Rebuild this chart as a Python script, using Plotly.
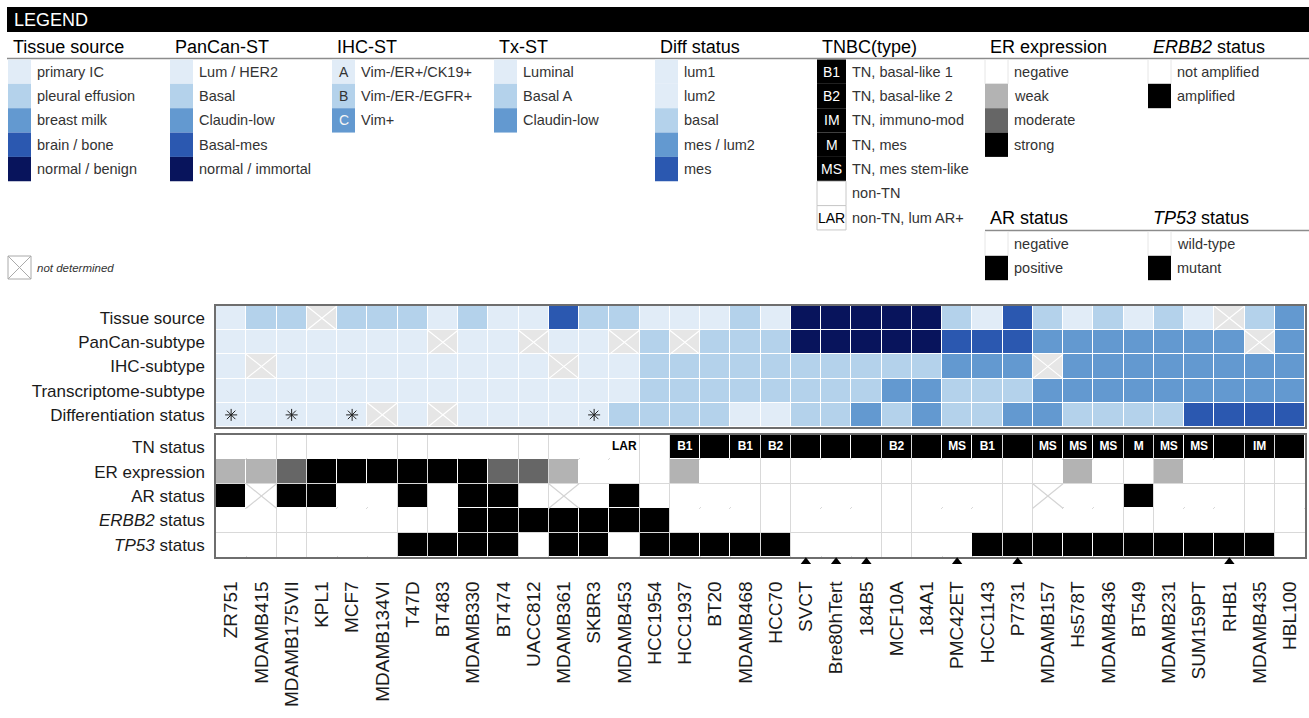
import plotly.graph_objects as go

W, H = 1309, 718
FONT = "Liberation Sans, Arial, Helvetica, sans-serif"

# ---------------- data ----------------
cell_lines = ["ZR751", "MDAMB415", "MDAMB175VII", "KPL1", "MCF7", "MDAMB134VI", "T47D", "BT483",
              "MDAMB330", "BT474", "UACC812", "MDAMB361", "SKBR3", "MDAMB453", "HCC1954", "HCC1937",
              "BT20", "MDAMB468", "HCC70", "SVCT", "Bre80hTert", "184B5", "MCF10A", "184A1",
              "PMC42ET", "HCC1143", "P7731", "MDAMB157", "Hs578T", "MDAMB436", "BT549", "MDAMB231",
              "SUM159PT", "RHB1", "MDAMB435", "HBL100"]

# tissue source: IC primary IC, PE pleural effusion, BM breast milk, BB brain/bone, NB normal/benign
tissue_source = ["IC", "PE", "PE", None, "PE", "PE", "PE", "IC", "PE", "IC", "IC", "BB", "PE", "PE", "IC",
                 "IC", "IC", "PE", "IC", "NB", "NB", "NB", "NB", "NB", "PE", "IC", "BB", "PE", "IC", "PE",
                 "IC", "PE", "IC", None, "PE", "BM"]
# PanCan subtype: LH Lum/HER2, Ba Basal, CL Claudin-low, BM Basal-mes, NI normal/immortal
pancan_subtype = ["LH"] * 7 + [None, "LH", "LH", None, "LH", "LH", None, "Ba",
                               None, "Ba", "Ba", "Ba", "NI", "NI", "NI", "NI", "NI", "BM", "BM", "BM",
                               "CL", "CL", "CL", "CL", "CL", "CL", "CL", None, "CL"]
ihc_subtype = ["A", None, "A", "A", "A", "A", "A", "A", "A", "A", "A", None, "A", "A", "B"] + \
              ["B"] * 9 + ["C", "C", "C", None] + ["C"] * 8
transcriptome_subtype = ["Luminal"] * 14 + ["Basal A"] * 8 + ["Claudin-low"] * 2 + \
                        ["Basal A"] * 3 + ["Claudin-low"] * 9
diff_status = ["lum1", "lum2", "lum1", "lum2", "lum1", None, "lum2", None, "lum2", "lum2", "lum2", "lum2",
               "lum1", "basal", "basal", "basal", "basal", "lum2", "lum2", "basal", "basal", "mes/lum2",
               "basal", "mes/lum2", "basal", "basal", "mes/lum2", "mes/lum2", "basal", "basal", "basal",
               "basal", "mes", "mes", "mes", "mes"]

tn_status = ["non-TN"] * 13 + ["LAR", "non-TN", "B1", "TN", "B1", "B2", "TN", "TN", "TN", "B2", "TN",
                               "MS", "B1", "TN", "MS", "MS", "MS", "M", "MS", "MS", "TN", "IM", "TN"]
er_expression = ["weak", "weak", "moderate"] + ["strong"] * 6 + ["moderate", "moderate", "weak"] + \
                ["negative"] * 3 + ["weak"] + ["negative"] * 12 + ["weak", "negative", "negative", "weak"] + \
                ["negative"] * 4
ar_status = ["pos", None, "pos", "pos", "neg", "neg", "pos", "neg", "pos", "pos", "neg", None, "neg", "pos",
             "neg"] + ["neg"] * 12 + [None, "neg", "neg", "pos"] + ["neg"] * 5
erbb2_status = ["not amplified"] * 8 + ["amplified"] * 7 + ["not amplified"] * 21
tp53_status = ["wt"] * 6 + ["mut"] * 4 + ["wt", "mut", "mut", "wt", "mut"] + ["mut"] * 4 + ["wt"] * 6 + \
              ["mut"] * 10 + ["wt"]

marked_lines = ["SVCT", "Bre80hTert", "184B5", "PMC42ET", "P7731", "RHB1"]

top_row_labels = ["Tissue source", "PanCan-subtype", "IHC-subtype", "Transcriptome-subtype",
                  "Differentiation status"]
bottom_row_labels = ["TN status", "ER expression", "AR status", "<i>ERBB2</i> status", "<i>TP53</i> status"]

# ---------------- styles ----------------
BLUES = ["#e1ecf7", "#b4d2eb", "#6399d0", "#2b58b0", "#08145c"]
NA_TOP = "#e6e6e6"
GRAYS = ["#ffffff", "#b3b3b3", "#666666", "#000000"]
BORDER = "#6e6e6e"

n = len(cell_lines)
X0, X1 = 216, 1305
TOP_Y0, TOP_Y1 = 306, 427
BOT_Y0, BOT_Y1 = 435, 557
MARK_Y0, MARK_Y1 = 557, 575


def discrete_scale(colors):
    k = len(colors)
    cs = []
    for i, c in enumerate(colors):
        cs.append([i / k, c])
        cs.append([(i + 1) / k, c])
    return cs


def cross_xy(cells):
    xs, ys = [], []
    for r, c in cells:
        xs += [c - 0.5, c + 0.5, None, c - 0.5, c + 0.5, None]
        ys += [r - 0.5, r + 0.5, None, r + 0.5, r - 0.5, None]
    return xs, ys


fig = go.Figure()

# ---------------- top heatmap ----------------
top_specs = [
    (tissue_source, {"IC": 0, "PE": 1, "BM": 2, "BB": 3, "NB": 4}),
    (pancan_subtype, {"LH": 0, "Ba": 1, "CL": 2, "BM": 3, "NI": 4}),
    (ihc_subtype, {"A": 0, "B": 1, "C": 2}),
    (transcriptome_subtype, {"Luminal": 0, "Basal A": 1, "Claudin-low": 2}),
    (diff_status, {"lum1": 0, "lum2": 0, "basal": 1, "mes/lum2": 2, "mes": 3}),
]
z_top, na_top = [], []
for r, (vals, mapping) in enumerate(top_specs):
    row = []
    for c, v in enumerate(vals):
        if v is None:
            row.append(len(BLUES))
            na_top.append((r, c))
        else:
            row.append(mapping[v])
    z_top.append(row)

fig.add_trace(go.Heatmap(z=z_top, x=list(range(n)), y=list(range(5)),
                         colorscale=discrete_scale(BLUES + [NA_TOP]), zmin=-0.5, zmax=len(BLUES) + 0.5,
                         showscale=False, xgap=1, ygap=1, hoverinfo="skip", xaxis="x", yaxis="y"))
xs, ys = cross_xy(na_top)
fig.add_trace(go.Scatter(x=xs, y=ys, mode="lines", line=dict(color="white", width=1.2),
                         hoverinfo="skip", showlegend=False, xaxis="x", yaxis="y"))
lum1_cols = [c for c, v in enumerate(diff_status) if v == "lum1"]
fig.add_trace(go.Scatter(x=lum1_cols, y=[4] * len(lum1_cols), mode="markers",
                         marker=dict(symbol="asterisk-open", size=10, color="#222",
                                     line=dict(color="#222", width=1)),
                         hoverinfo="skip", showlegend=False, xaxis="x", yaxis="y"))

# ---------------- bottom heatmap ----------------
bottom_specs = [
    (tn_status, {"non-TN": 0, "LAR": 0, "TN": 3, "B1": 3, "B2": 3, "IM": 3, "M": 3, "MS": 3}),
    (er_expression, {"negative": 0, "weak": 1, "moderate": 2, "strong": 3}),
    (ar_status, {"neg": 0, "pos": 3}),
    (erbb2_status, {"not amplified": 0, "amplified": 3}),
    (tp53_status, {"wt": 0, "mut": 3}),
]
z_bot, na_bot = [], []
for r, (vals, mapping) in enumerate(bottom_specs):
    row = []
    for c, v in enumerate(vals):
        if v is None:
            row.append(0)
            na_bot.append((r, c))
        else:
            row.append(mapping[v])
    z_bot.append(row)

fig.add_trace(go.Heatmap(z=z_bot, x=list(range(n)), y=list(range(5)),
                         colorscale=discrete_scale(GRAYS), zmin=-0.5, zmax=len(GRAYS) - 0.5,
                         showscale=False, xgap=1, ygap=1, hoverinfo="skip", xaxis="x2", yaxis="y2"))
xs, ys = cross_xy(na_bot)
fig.add_trace(go.Scatter(x=xs, y=ys, mode="lines", line=dict(color="#d4d4d4", width=1.2),
                         hoverinfo="skip", showlegend=False, xaxis="x2", yaxis="y2"))

tn_cols = [c for c, v in enumerate(tn_status) if v not in ("non-TN", "TN")]
fig.add_trace(go.Scatter(x=tn_cols, y=[0] * len(tn_cols), mode="text",
                         text=[tn_status[c] for c in tn_cols],
                         textfont=dict(family=FONT, size=12, weight="bold",
                                       color=["black" if tn_status[c] == "LAR" else "white" for c in tn_cols]),
                         hoverinfo="skip", showlegend=False, xaxis="x2", yaxis="y2"))

# markers strip below the bottom heatmap (own axis pair sharing the column scale)
mark_cols = [cell_lines.index(m) for m in marked_lines]
fig.add_trace(go.Scatter(x=mark_cols, y=[0.74] * len(mark_cols), mode="markers",
                         marker=dict(symbol="triangle-up", size=9, color="black"),
                         hoverinfo="skip", showlegend=False, xaxis="x4", yaxis="y4"))

# ---------------- legend (drawn in a pixel-space overlay axis) ----------------
shapes, annotations = [], []
lg_x, lg_y = [], []


def rect(x0, y0, x1, y1, fill, line_color=None, lw=1):
    shapes.append(dict(type="rect", xref="x3", yref="y3", x0=x0, y0=y0, x1=x1, y1=y1, fillcolor=fill,
                       line=dict(color=line_color or fill, width=lw if line_color else 0), layer="above"))


def line(x0, y0, x1, y1, color, lw):
    shapes.append(dict(type="line", xref="x3", yref="y3", x0=x0, y0=y0, x1=x1, y1=y1,
                       line=dict(color=color, width=lw), layer="above"))


def text(x, y, s, size, color, anchor="left", italic=False):
    annotations.append(dict(x=x, y=y, xref="x3", yref="y3", text=s, showarrow=False, xanchor=anchor,
                            yanchor="middle", font=dict(family=FONT, size=size, color=color,
                                                        style="italic" if italic else "normal")))


ROW_H = 24.35
rect(7, 7, 1309, 32, "black")
text(12, 20, "LEGEND", 18, "white")
line(7, 58.5, 1309, 58.5, "#8c8c8c", 1.5)
line(985, 230.5, 1309, 230.5, "#8c8c8c", 1.5)

legend_groups = [
    ("Tissue source", 8, 23, 46.5, 59.5, [(BLUES[0], "primary IC", "", None), (BLUES[1], "pleural effusion", "", None),
                                           (BLUES[2], "breast milk", "", None), (BLUES[3], "brain / bone", "", None),
                                           (BLUES[4], "normal / benign", "", None)]),
    ("PanCan-ST", 170, 23, 46.5, 59.5, [(BLUES[0], "Lum / HER2", "", None), (BLUES[1], "Basal", "", None),
                                        (BLUES[2], "Claudin-low", "", None), (BLUES[3], "Basal-mes", "", None),
                                        (BLUES[4], "normal / immortal", "", None)]),
    ("IHC-ST", 332, 23, 46.5, 59.5, [(BLUES[0], "Vim-/ER+/CK19+", "A", "#333"),
                                     (BLUES[1], "Vim-/ER-/EGFR+", "B", "#333"),
                                     (BLUES[2], "Vim+", "C", "#f4f4f4")]),
    ("Tx-ST", 494, 23, 46.5, 59.5, [(BLUES[0], "Luminal", "", None), (BLUES[1], "Basal A", "", None),
                                    (BLUES[2], "Claudin-low", "", None)]),
    ("Diff status", 655, 23, 46.5, 59.5, [(BLUES[0], "lum1", "*", None), (BLUES[0], "lum2", "", None),
                                          (BLUES[1], "basal", "", None), (BLUES[2], "mes / lum2", "", None),
                                          (BLUES[3], "mes", "", None)]),
    ("TNBC(type)", 817, 29, 46.5, 59.5, [("#000000", "TN, basal-like 1", "B1", "white"),
                                         ("#000000", "TN, basal-like 2", "B2", "white"),
                                         ("#000000", "TN, immuno-mod", "IM", "white"),
                                         ("#000000", "TN, mes", "M", "white"),
                                         ("#000000", "TN, mes stem-like", "MS", "white"),
                                         ("#ffffff", "non-TN", "", "box"),
                                         ("#ffffff", "non-TN, lum AR+", "LAR", "black")]),
    ("ER expression", 985, 23, 46.5, 59.5, [(GRAYS[0], "negative", "", None), (GRAYS[1], "weak", "", None),
                                            (GRAYS[2], "moderate", "", None), (GRAYS[3], "strong", "", None)]),
    ("<i>ERBB2</i> status", 1148, 23, 46.5, 59.5, [(GRAYS[0], "not amplified", "", None),
                                                  (GRAYS[3], "amplified", "", None)]),
    ("AR status", 985, 23, 218, 231.5, [(GRAYS[0], "negative", "", None), (GRAYS[3], "positive", "", None)]),
    ("<i>TP53</i> status", 1148, 23, 218, 231.5, [(GRAYS[0], "wild-type", "", None),
                                                 (GRAYS[3], "mutant", "", None)]),
]

for title, gx, sw, hy, ry, items in legend_groups:
    text(gx + 3, hy, title, 18, "black")
    for i, (col, label, letter, lcol) in enumerate(items):
        y0 = ry + i * ROW_H
        y1 = y0 + ROW_H
        if col == "#ffffff":
            border = "#c8c8c8" if title == "TNBC(type)" else "#e6e6e6"
            rect(gx, y0, gx + sw, y1, col, border, 1)
        else:
            rect(gx, y0, gx + sw, y1, col)
        if letter == "*":
            lg_x.append(gx + sw / 2)
            lg_y.append(y0 + ROW_H / 2)
        elif letter:
            text(gx + sw / 2, y0 + ROW_H / 2, letter, 14, lcol, anchor="center")
        text(gx + sw + 4, y0 + ROW_H / 2, label, 14.5, "#333")

# not determined
rect(8, 256, 31, 279, "white", "#aaaaaa", 1)
line(8, 256, 31, 279, "#aaaaaa", 1)
line(8, 279, 31, 256, "#aaaaaa", 1)
text(35, 268, "not determined", 11.5, "#333", italic=True)

fig.add_trace(go.Scatter(x=lg_x, y=lg_y, mode="markers",
                         marker=dict(symbol="asterisk-open", size=10, color="#222",
                                     line=dict(color="#222", width=1)),
                         hoverinfo="skip", showlegend=False, xaxis="x3", yaxis="y3"))

# ---------------- layout ----------------
ax_common = dict(showgrid=False, zeroline=False, showline=True, mirror=True, linecolor=BORDER,
                 linewidth=1.5, ticks="", fixedrange=True, automargin=False)

fig.update_layout(
    width=W, height=H, margin=dict(l=0, r=0, t=0, b=0),
    paper_bgcolor="white", plot_bgcolor="rgba(0,0,0,0)",
    font=dict(family=FONT, color="#1a1a1a"),
    showlegend=False,
    xaxis=dict(domain=[X0 / W, X1 / W], range=[-0.5, n - 0.5], showticklabels=False, anchor="y", **ax_common),
    yaxis=dict(domain=[1 - TOP_Y1 / H, 1 - TOP_Y0 / H], range=[4.5, -0.5], tickvals=list(range(5)),
               ticktext=top_row_labels, tickfont=dict(size=17, color="#1a1a1a"), ticklabelstandoff=6,
               anchor="x", **ax_common),
    xaxis2=dict(domain=[X0 / W, X1 / W], range=[-0.5, n - 0.5], tickvals=list(range(n)), ticktext=cell_lines,
                tickangle=-90, tickfont=dict(size=19, color="#1a1a1a"), ticklabelstandoff=15, anchor="y2",
                minor=dict(tickmode="array", tickvals=[i + 0.5 for i in range(n - 1)], showgrid=True,
                           gridcolor="#d9d9d9", gridwidth=1, ticks=""),
                **ax_common),
    yaxis2=dict(domain=[1 - BOT_Y1 / H, 1 - BOT_Y0 / H], range=[4.5, -0.5], tickvals=list(range(5)),
                ticktext=bottom_row_labels, tickfont=dict(size=17, color="#1a1a1a"), ticklabelstandoff=6,
                anchor="x2",
                minor=dict(tickmode="array", tickvals=[i + 0.5 for i in range(4)], showgrid=True,
                           gridcolor="#d9d9d9", gridwidth=1, ticks=""),
                **ax_common),
    xaxis3=dict(domain=[0, 1], range=[0, W], visible=False, anchor="y3", fixedrange=True),
    yaxis3=dict(domain=[0, 1], range=[H, 0], visible=False, anchor="x3", fixedrange=True),
    xaxis4=dict(domain=[X0 / W, X1 / W], range=[-0.5, n - 0.5], visible=False, anchor="y4", fixedrange=True),
    yaxis4=dict(domain=[1 - MARK_Y1 / H, 1 - MARK_Y0 / H], range=[0, 1], visible=False, anchor="x4",
                fixedrange=True),
    shapes=shapes, annotations=annotations,
)

fig.write_html("out.html", config={"displayModeBar": False},
               post_script="document.body.style.margin='0px';document.body.style.overflow='hidden';")
